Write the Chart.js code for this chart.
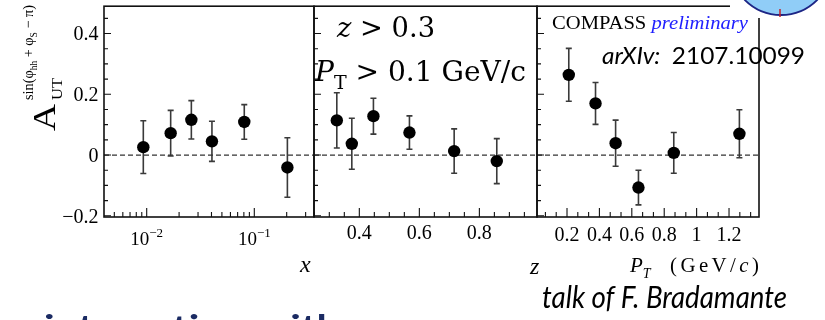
<!DOCTYPE html>
<html>
<head>
<meta charset="utf-8">
<script src="https://cdn.jsdelivr.net/npm/chart.js@4.4.1/dist/chart.umd.min.js"></script>
<style>
  html, body { margin: 0; padding: 0; background: #fff; }
  #wrap { position: relative; width: 825px; height: 320px; overflow: hidden; background: #fff; }
  #wrap canvas { position: absolute; left: 0; top: 0; }
</style>
</head>
<body>
<div id="wrap">
  <canvas id="c1" width="825" height="320"></canvas>
  <canvas id="c2" width="825" height="320"></canvas>
  <canvas id="c3" width="825" height="320"></canvas>
</div>
<script>
// y axis (shared by the three panels)
const yMin = -0.204, yMax = 0.49;
const yTicks = [-0.2, 0, 0.2, 0.4];
const yTickLabels = ['\u22120.2', '0', '0.2', '0.4'];

// x bins
const xBins = [0.0093, 0.0167, 0.026, 0.0404, 0.0807, 0.203];
const xAsym = [0.026, 0.072, 0.116, 0.045, 0.109, -0.041];
const xErr  = [0.087, 0.075, 0.063, 0.066, 0.057, 0.098];
const xTicks = [0.01, 0.1];
const xTickLabels = [['10', '\u22122'], ['10', '\u22121']];

// z bins
const zBins = [0.325, 0.375, 0.447, 0.567, 0.716, 0.858];
const zAsym = [0.114, 0.037, 0.128, 0.074, 0.013, -0.020];
const zErr  = [0.091, 0.084, 0.059, 0.055, 0.073, 0.074];
const zTicks = [0.4, 0.6, 0.8];
const zTickLabels = ['0.4', '0.6', '0.8'];

// PT bins
const ptBins = [0.211, 0.376, 0.500, 0.641, 0.859, 1.264];
const ptAsym = [0.264, 0.170, 0.039, -0.107, 0.007, 0.070];
const ptErr  = [0.087, 0.069, 0.076, 0.057, 0.067, 0.079];
const ptTicks = [0.2, 0.4, 0.6, 0.8, 1, 1.2];
const ptTickLabels = ['0.2', '0.4', '0.6', '0.8', '1', '1.2'];

const SERIF = '"Liberation Serif", "Times New Roman", serif';
const MATH = '"DejaVu Serif", serif';
const SANS = 'Lato, "Open Sans", sans-serif';

// draw a run of text pieces, optionally squeezed/stretched to a width
function rich(ctx, parts, x, y, width) {
  let total = 0;
  parts.forEach(p => {
    ctx.font = p.f;
    for (const ch of (p.gap ? [...p.t] : [p.t])) total += ctx.measureText(ch).width + (p.gap || 0);
  });
  const s = width ? width / total : 1;
  ctx.save();
  ctx.translate(x, y);
  ctx.scale(s, 1);
  ctx.textAlign = 'left';
  ctx.textBaseline = 'alphabetic';
  let cx = 0;
  parts.forEach(p => {
    ctx.font = p.f;
    ctx.fillStyle = p.c || '#000';
    for (const ch of (p.gap ? [...p.t] : [p.t])) {
      ctx.fillText(ch, cx, p.dy || 0);
      cx += ctx.measureText(ch).width + (p.gap || 0);
    }
  });
  ctx.restore();
}

// minor tick positions for each panel
function logMinor(min, max) {
  let out = [];
  for (let e = -3; e <= 0; e++) {
    for (let k = 1; k <= 9; k++) {
      let v = k * Math.pow(10, e);
      if (v > min && v < max) out.push({ v: v, major: k === 1 });
    }
  }
  return out;
}
function linMinor(min, max, step, per) {
  let out = [];
  for (let k = Math.ceil(min / step); k * step < max; k++) {
    out.push({ v: k * step, major: k % per === 0 });
  }
  return out;
}

// error bars under the markers
const errorBars = {
  id: 'errorBars',
  beforeDatasetsDraw(chart) {
    const ctx = chart.ctx, xs = chart.scales.x, ys = chart.scales.y;
    const ds = chart.data.datasets[0];
    ctx.save();
    ctx.strokeStyle = '#3a3a3a';
    ctx.lineWidth = 1.6;
    ds.data.forEach((p, i) => {
      const px = xs.getPixelForValue(p.x);
      const top = ys.getPixelForValue(p.y + ds.errors[i]);
      const bot = ys.getPixelForValue(p.y - ds.errors[i]);
      ctx.beginPath();
      ctx.moveTo(px, top); ctx.lineTo(px, bot);
      ctx.moveTo(px - 3, top); ctx.lineTo(px + 3, top);
      ctx.moveTo(px - 3, bot); ctx.lineTo(px + 3, bot);
      ctx.stroke();
    });
    // dashed zero line
    const a = chart.chartArea, y0 = ys.getPixelForValue(0);
    ctx.strokeStyle = '#333';
    ctx.lineWidth = 1.2;
    ctx.setLineDash([5, 3]);
    ctx.beginPath();
    ctx.moveTo(a.left, y0); ctx.lineTo(a.right, y0);
    ctx.stroke();
    ctx.restore();
  }
};

// frame, inner ticks, tick labels, titles
const frame = {
  id: 'frame',
  afterDraw(chart, args, opts) {
    const ctx = chart.ctx, a = chart.chartArea;
    const xs = chart.scales.x, ys = chart.scales.y;
    const p = opts.panel;
    ctx.save();
    ctx.strokeStyle = '#111';
    ctx.lineWidth = 1.6;
    ctx.strokeRect(a.left, a.top, a.right - a.left, a.bottom - a.top);

    ctx.lineWidth = 1.1;
    ctx.beginPath();
    for (let k = -4; k <= 9; k++) {
      const y = ys.getPixelForValue(k * 0.05);
      ctx.moveTo(a.left, y);
      ctx.lineTo(a.left + (k % 4 === 0 ? 7 : 4), y);
    }
    p.minor.forEach(t => {
      const x = xs.getPixelForValue(t.v);
      ctx.moveTo(x, a.bottom);
      ctx.lineTo(x, a.bottom - (t.major ? 9 : 5));
    });
    ctx.stroke();

    ctx.fillStyle = '#000';
    if (p.key === 'x') {
      // y tick labels
      ctx.font = '20px ' + SERIF;
      ctx.textAlign = 'right';
      yTicks.forEach((v, i) => ctx.fillText(yTickLabels[i], 98.5, ys.getPixelForValue(v) + 6.8));
      // x tick labels 10^n
      p.ticks.forEach((v, i) => {
        const px = xs.getPixelForValue(v);
        ctx.font = '19px ' + SERIF;
        const w1 = ctx.measureText(p.labels[i][0]).width;
        ctx.font = '13px ' + SERIF;
        const w2 = ctx.measureText(p.labels[i][1]).width;
        rich(ctx, [{ t: p.labels[i][0], f: '19px ' + SERIF }, { t: p.labels[i][1], f: '13px ' + SERIF, dy: -8 }], px - (w1 + w2) / 2, 245);
      });
      drawYTitle(ctx);
      rich(ctx, [{ t: 'x', f: 'italic 24px ' + SERIF }], 300, 272);
      rich(ctx, [{ t: 'interaction with', f: 'bold 32px ' + SANS, c: '#1b2b63' }], 44, 338, 296);
    } else {
      ctx.font = '20px ' + SERIF;
      ctx.textAlign = 'center';
      p.ticks.forEach((v, i) => ctx.fillText(p.labels[i], xs.getPixelForValue(v), p.labelY));
    }

    if (p.key === 'z') {
      rich(ctx, [
        { t: 'z', f: 'italic 28px ' + MATH },
        { t: ' > ', f: '28px ' + MATH },
        { t: '0.3', f: '28px ' + MATH }
      ], 337, 36.5, 98);
      rich(ctx, [
        { t: 'P', f: 'italic 28px ' + MATH },
        { t: 'T', f: '19px ' + MATH, dy: 8 },
        { t: ' > 0.1 GeV/c', f: '28px ' + MATH }
      ], 315, 81, 211);
      rich(ctx, [{ t: 'z', f: 'italic 24px ' + SERIF }], 530, 274);
    }

    if (p.key === 'pt') {
      rich(ctx, [
        { t: 'P', f: 'italic 21px ' + SERIF },
        { t: 'T', f: 'italic 14px ' + SERIF, dy: 6 }
      ], 630, 272);
      rich(ctx, [
        { t: '(GeV/', f: '21px ' + SERIF, gap: 3.5 },
        { t: 'c', f: 'italic 21px ' + SERIF, gap: 3.5 },
        { t: ')', f: '21px ' + SERIF }
      ], 670, 272, 89);
      rich(ctx, [
        { t: 'COMPASS ', f: '19px ' + SERIF },
        { t: 'preliminary', f: 'italic 19px ' + SERIF, c: '#2020ff' }
      ], 552, 28.5, 196);
      rich(ctx, [
        { t: 'arXIv:  ', f: 'italic 23px ' + SANS },
        { t: '2107.10099', f: '23px ' + SANS }
      ], 602, 63.5, 203);
      rich(ctx, [{ t: 'talk of F. Bradamante', f: 'italic 30px ' + SANS }], 542, 307.5, 245);
      drawLogo(ctx);
    }
    ctx.restore();
  }
};

// A_UT^{sin(phi_hh + phi_S - pi)}, rotated
function drawYTitle(ctx) {
  ctx.save();
  ctx.translate(55, 131);
  ctx.rotate(-Math.PI / 2);
  rich(ctx, [{ t: 'A', f: '31px ' + SERIF }], 0, 0, 27);
  rich(ctx, [{ t: 'UT', f: '15px ' + SERIF }], 31, 7, 22);
  rich(ctx, [
    { t: 'sin(\u03c6', f: '15px ' + SERIF },
    { t: 'hh', f: '10px ' + SERIF, dy: 4 },
    { t: ' + \u03c6', f: '15px ' + SERIF },
    { t: 'S', f: '10px ' + SERIF, dy: 4 },
    { t: ' \u2212 \u03c0)', f: '15px ' + SERIF }
  ], 31, -22, 95);
  ctx.restore();
}

// corner of the logo that covers the top right of the frame
function drawLogo(ctx) {
  ctx.save();
  ctx.fillStyle = '#fff';
  ctx.fillRect(730, 0, 95, 18);
  ctx.beginPath();
  ctx.arc(781, -36, 51, 0, Math.PI * 2);
  ctx.fillStyle = '#90cdf7';
  ctx.fill();
  ctx.strokeStyle = '#1c2585';
  ctx.lineWidth = 1.8;
  ctx.stroke();
  ctx.strokeStyle = '#c0202a';
  ctx.lineWidth = 1.5;
  ctx.beginPath();
  ctx.moveTo(780, 9); ctx.lineTo(780, 17);
  ctx.stroke();
  ctx.restore();
}

const panels = [
  { id: 'c1', key: 'x', left: 104, right: 314, type: 'logarithmic', min: 0.00401, max: 0.3588,
    bins: xBins, asym: xAsym, err: xErr, ticks: xTicks, labels: xTickLabels },
  { id: 'c2', key: 'z', left: 314, right: 537, type: 'linear', min: 0.249, max: 0.992,
    bins: zBins, asym: zAsym, err: zErr, ticks: zTicks, labels: zTickLabels, labelY: 238.5 },
  { id: 'c3', key: 'pt', left: 537, right: 759, type: 'linear', min: 0.0148, max: 1.385,
    bins: ptBins, asym: ptAsym, err: ptErr, ticks: ptTicks, labels: ptTickLabels, labelY: 241 }
];
panels[0].minor = logMinor(panels[0].min, panels[0].max);
panels[1].minor = linMinor(panels[1].min, panels[1].max, 0.05, 4);
panels[2].minor = linMinor(panels[2].min, panels[2].max, 0.2 / 3, 3);

panels.forEach(p => {
  new Chart(document.getElementById(p.id), {
    type: 'scatter',
    data: {
      datasets: [{
        data: p.bins.map((v, i) => ({ x: v, y: p.asym[i] })),
        errors: p.err,
        pointRadius: 6.2,
        pointHoverRadius: 6.2,
        backgroundColor: '#000',
        borderWidth: 0
      }]
    },
    options: {
      responsive: false,
      animation: false,
      events: [],
      layout: { padding: { left: p.left, right: 825 - p.right, top: 5, bottom: 103 } },
      plugins: { legend: { display: false }, tooltip: { enabled: false }, frame: { panel: p } },
      scales: {
        x: { type: p.type, min: p.min, max: p.max, display: false },
        y: { min: yMin, max: yMax, display: false }
      }
    },
    plugins: [errorBars, frame]
  });
});
</script>
</body>
</html>
